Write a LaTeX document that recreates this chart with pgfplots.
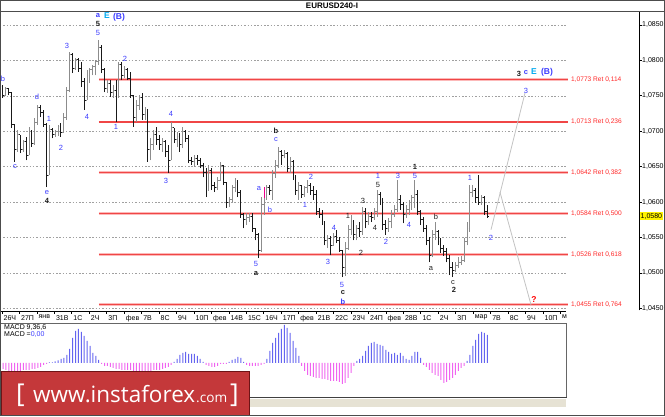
\documentclass[border=0pt]{standalone}
\usepackage{pgfplots}
\usepackage{pgfplotstable}
\pgfplotsset{compat=1.18}
\usepackage{fontspec}
\setmainfont{Liberation Sans}
\newfontfamily\osans{Open Sans}
\definecolor{upbar}{RGB}{140,140,140}
\definecolor{dnbar}{RGB}{25,25,25}
\definecolor{fibred}{RGB}{240,70,70}
\definecolor{fibpink}{RGB}{252,185,185}
\definecolor{fibtxt}{RGB}{255,40,40}
\definecolor{wb}{RGB}{60,60,255}
\definecolor{wk}{RGB}{30,30,30}
\definecolor{wc}{RGB}{0,170,240}
\definecolor{macdpos}{RGB}{100,100,240}
\definecolor{macdneg}{RGB}{240,100,240}
\definecolor{banred}{RGB}{196,56,58}
\definecolor{bandark}{RGB}{110,20,22}
\definecolor{gridgray}{RGB}{160,160,160}
\definecolor{projgray}{RGB}{195,195,195}
\definecolor{strip}{RGB}{230,226,212}

\pgfdeclareplotmark{otick}{\pgfpathmoveto{\pgfpoint{-1.4pt}{0pt}}\pgfpathlineto{\pgfpoint{0pt}{0pt}}\pgfusepathqstroke}
\pgfdeclareplotmark{ctick}{\pgfpathmoveto{\pgfpoint{0pt}{0pt}}\pgfpathlineto{\pgfpoint{1.4pt}{0pt}}\pgfusepathqstroke}

\pgfplotstableread{
x o h l c
3.0 1.0763 1.0765 1.0747 1.0751
8.8 1.0761 1.0761 1.0751 1.0754
11.7 1.0754 1.0754 1.0705 1.0709
14.6 1.0709 1.0709 1.0657 1.0674
20.4 1.0695 1.0695 1.0669 1.0674
26.2 1.0685 1.0692 1.0659 1.0666
32.0 1.0699 1.0702 1.0678 1.0683
40.7 1.0733 1.0737 1.0720 1.0726
43.6 1.0726 1.0730 1.0706 1.0709
46.5 1.0709 1.0712 1.0621 1.0638
52.3 1.0702 1.0705 1.0690 1.0695
61.0 1.0706 1.0712 1.0692 1.0698
72.6 1.0808 1.0811 1.0782 1.0789
78.4 1.0801 1.0803 1.0784 1.0789
81.3 1.0789 1.0798 1.0763 1.0770
84.2 1.0770 1.0775 1.0730 1.0744
101.6 1.0818 1.0822 1.0782 1.0787
104.5 1.0787 1.0789 1.0755 1.0761
110.3 1.0768 1.0772 1.0748 1.0755
116.1 1.0758 1.0772 1.0713 1.0747
121.9 1.0794 1.0798 1.0772 1.0779
127.7 1.0787 1.0789 1.0772 1.0775
130.6 1.0775 1.0784 1.0747 1.0751
133.5 1.0751 1.0751 1.0706 1.0719
142.2 1.0747 1.0754 1.0716 1.0723
148.0 1.0730 1.0730 1.0657 1.0674
156.7 1.0695 1.0706 1.0681 1.0688
159.6 1.0688 1.0695 1.0674 1.0681
165.4 1.0685 1.0688 1.0664 1.0671
168.3 1.0671 1.0681 1.0641 1.0659
174.1 1.0705 1.0705 1.0683 1.0688
179.9 1.0693 1.0698 1.0671 1.0681
185.7 1.0699 1.0702 1.0685 1.0690
188.6 1.0690 1.0695 1.0655 1.0659
191.5 1.0659 1.0664 1.0652 1.0657
197.3 1.0662 1.0666 1.0652 1.0659
200.2 1.0659 1.0662 1.0648 1.0652
203.1 1.0652 1.0655 1.0635 1.0642
206.0 1.0642 1.0648 1.0607 1.0617
211.8 1.0645 1.0648 1.0617 1.0624
214.7 1.0624 1.0628 1.0614 1.0620
223.4 1.0652 1.0652 1.0624 1.0628
226.3 1.0628 1.0628 1.0592 1.0599
237.9 1.0628 1.0631 1.0607 1.0614
240.8 1.0614 1.0617 1.0578 1.0582
243.7 1.0582 1.0585 1.0563 1.0575
252.4 1.0580 1.0585 1.0558 1.0563
255.3 1.0563 1.0563 1.0546 1.0554
258.2 1.0554 1.0556 1.0521 1.0532
269.8 1.0620 1.0624 1.0610 1.0617
281.4 1.0671 1.0674 1.0652 1.0666
287.2 1.0669 1.0671 1.0642 1.0648
293.0 1.0657 1.0659 1.0631 1.0635
295.9 1.0635 1.0638 1.0610 1.0617
301.7 1.0624 1.0624 1.0606 1.0610
310.4 1.0624 1.0627 1.0610 1.0617
313.3 1.0617 1.0623 1.0603 1.0610
316.2 1.0610 1.0617 1.0582 1.0586
319.1 1.0586 1.0592 1.0578 1.0582
322.0 1.0582 1.0589 1.0568 1.0572
324.9 1.0572 1.0572 1.0539 1.0546
330.7 1.0549 1.0552 1.0525 1.0539
336.5 1.0551 1.0561 1.0542 1.0546
339.4 1.0546 1.0551 1.0530 1.0532
342.3 1.0532 1.0532 1.0494 1.0507
353.9 1.0572 1.0575 1.0546 1.0554
359.7 1.0563 1.0572 1.0551 1.0558
365.5 1.0586 1.0592 1.0563 1.0572
371.3 1.0580 1.0586 1.0572 1.0578
380.0 1.0610 1.0614 1.0596 1.0603
382.9 1.0603 1.0606 1.0561 1.0568
385.8 1.0568 1.0575 1.0554 1.0563
400.3 1.0603 1.0610 1.0589 1.0596
403.2 1.0596 1.0600 1.0570 1.0582
417.7 1.0610 1.0617 1.0582 1.0586
420.6 1.0586 1.0589 1.0568 1.0575
423.5 1.0575 1.0579 1.0558 1.0563
426.4 1.0563 1.0568 1.0539 1.0546
429.3 1.0546 1.0551 1.0515 1.0525
438.0 1.0558 1.0561 1.0539 1.0544
440.9 1.0544 1.0549 1.0528 1.0535
443.8 1.0535 1.0539 1.0524 1.0530
446.7 1.0530 1.0535 1.0515 1.0521
449.6 1.0521 1.0525 1.0497 1.0507
452.5 1.0507 1.0515 1.0494 1.0504
475.7 1.0617 1.0620 1.0599 1.0606
478.6 1.0606 1.0638 1.0596 1.0600
484.4 1.0606 1.0609 1.0582 1.0586
487.3 1.0586 1.0596 1.0578 1.0580
}\dntab

\pgfplotstableread{
x o h l c
5.9 1.0751 1.0763 1.0751 1.0761
17.5 1.0674 1.0702 1.0671 1.0695
23.3 1.0674 1.0688 1.0671 1.0685
29.1 1.0666 1.0706 1.0666 1.0699
34.9 1.0683 1.0719 1.0681 1.0713
37.8 1.0713 1.0737 1.0709 1.0733
49.4 1.0638 1.0709 1.0638 1.0702
55.2 1.0695 1.0702 1.0692 1.0700
58.1 1.0700 1.0709 1.0693 1.0706
63.9 1.0698 1.0726 1.0698 1.0720
66.8 1.0720 1.0763 1.0716 1.0758
69.7 1.0758 1.0812 1.0755 1.0808
75.5 1.0789 1.0803 1.0787 1.0801
87.1 1.0744 1.0787 1.0744 1.0779
90.0 1.0779 1.0789 1.0768 1.0787
92.9 1.0787 1.0794 1.0779 1.0791
95.8 1.0791 1.0801 1.0779 1.0798
98.7 1.0798 1.0829 1.0794 1.0818
107.4 1.0761 1.0772 1.0754 1.0768
113.2 1.0755 1.0765 1.0747 1.0758
119.0 1.0747 1.0798 1.0747 1.0794
124.8 1.0779 1.0792 1.0775 1.0787
136.4 1.0719 1.0744 1.0713 1.0737
139.3 1.0737 1.0751 1.0730 1.0747
145.1 1.0723 1.0734 1.0716 1.0730
150.9 1.0674 1.0690 1.0659 1.0681
153.8 1.0681 1.0702 1.0674 1.0695
162.5 1.0681 1.0690 1.0671 1.0685
171.2 1.0659 1.0713 1.0659 1.0705
177.0 1.0688 1.0699 1.0678 1.0693
182.8 1.0681 1.0706 1.0676 1.0699
194.4 1.0657 1.0666 1.0650 1.0662
208.9 1.0617 1.0652 1.0617 1.0645
217.6 1.0620 1.0635 1.0617 1.0631
220.5 1.0631 1.0657 1.0631 1.0652
229.2 1.0599 1.0607 1.0593 1.0603
232.1 1.0603 1.0624 1.0600 1.0620
235.0 1.0620 1.0634 1.0614 1.0628
246.6 1.0575 1.0585 1.0568 1.0578
249.5 1.0578 1.0585 1.0572 1.0580
261.1 1.0532 1.0607 1.0530 1.0596
264.0 1.0596 1.0606 1.0582 1.0603
266.9 1.0603 1.0624 1.0603 1.0620
272.7 1.0617 1.0645 1.0603 1.0641
275.6 1.0641 1.0659 1.0634 1.0652
278.5 1.0652 1.0678 1.0648 1.0671
284.3 1.0666 1.0674 1.0662 1.0669
290.1 1.0648 1.0664 1.0641 1.0657
298.8 1.0617 1.0628 1.0603 1.0624
304.6 1.0610 1.0623 1.0607 1.0620
307.5 1.0620 1.0631 1.0613 1.0624
327.8 1.0546 1.0554 1.0535 1.0549
333.6 1.0539 1.0556 1.0539 1.0551
345.2 1.0507 1.0544 1.0496 1.0535
348.1 1.0535 1.0568 1.0532 1.0561
351.0 1.0561 1.0582 1.0554 1.0572
356.8 1.0554 1.0568 1.0546 1.0563
362.6 1.0558 1.0593 1.0554 1.0586
368.4 1.0572 1.0586 1.0568 1.0580
374.2 1.0578 1.0592 1.0575 1.0586
377.1 1.0586 1.0617 1.0579 1.0610
388.7 1.0563 1.0578 1.0558 1.0572
391.6 1.0572 1.0589 1.0563 1.0582
394.5 1.0582 1.0596 1.0579 1.0589
397.4 1.0589 1.0631 1.0586 1.0603
406.1 1.0582 1.0596 1.0578 1.0589
409.0 1.0589 1.0603 1.0582 1.0596
411.9 1.0596 1.0610 1.0589 1.0606
414.8 1.0606 1.0631 1.0592 1.0610
432.2 1.0525 1.0561 1.0522 1.0554
435.1 1.0554 1.0572 1.0546 1.0558
455.4 1.0504 1.0515 1.0501 1.0511
458.3 1.0511 1.0522 1.0507 1.0515
461.2 1.0515 1.0524 1.0511 1.0518
464.1 1.0518 1.0549 1.0515 1.0544
467.0 1.0544 1.0572 1.0539 1.0563
469.9 1.0563 1.0624 1.0558 1.0614
472.8 1.0614 1.0624 1.0607 1.0617
481.5 1.0600 1.0610 1.0596 1.0606
}\uptab

\newcommand{\wl}[4]{\node[text=#3,inner sep=0pt,font=\fontsize{7.5}{8}\selectfont] at (#1pt,{416pt-#2pt}) {#4};}
\newcommand{\wlb}[4]{\node[text=#3,inner sep=0pt,font=\bfseries\fontsize{7.5}{8}\selectfont] at (#1pt,{416pt-#2pt}) {#4};}
\newcommand{\fib}[2]{%
  \addplot[fibpink, line width=2.6pt, forget plot] coordinates {(99,#1) (568,#1)};
  \addplot[fibred, line width=1.2pt, forget plot] coordinates {(99,#1) (568,#1)};
  \node[anchor=west, inner sep=0pt, text=fibtxt, font=\fontsize{6.6}{7}\selectfont] at (axis cs:571,#1) {#2};}
\newcommand{\gl}[1]{\addplot[gridgray, line width=0.6pt, dash pattern=on 1.5pt off 1.8pt, forget plot] coordinates {(0,#1) (567,#1)};}

\begin{document}
\begin{tikzpicture}
\path[use as bounding box] (0pt,0pt) rectangle (665pt,416pt);
\fill[white] (0pt,0pt) rectangle (665pt,416pt);

% ---------- MACD panel ----------
\begin{axis}[at={(0pt,19pt)}, anchor=south west, scale only axis,
  width=566pt, height=74pt, xmin=0, xmax=566, ymin=-34, ymax=40, hide axis]
\addplot[ybar, bar width=1pt, bar shift=0pt, fill=macdneg, draw=none] coordinates {
(3.0,-6)(5.9,-7)(8.8,-8)(11.7,-8)(14.6,-8)(17.5,-8)(20.4,-8)(23.3,-7)(26.2,-7)(29.1,-7)(32.0,-6)(34.9,-6)(37.8,-5)(40.7,-4)(43.6,-2)(46.5,-1)
(101.6,-1)(104.5,-3)(107.4,-3)(110.3,-4)(113.2,-5)(116.1,-6)(119.0,-6)(121.9,-7)(124.8,-7)(127.7,-7)(130.6,-7)(133.5,-8)(136.4,-8)(139.3,-8)(142.2,-8)(145.1,-8)(148.0,-8)(150.9,-8)(153.8,-7)(156.7,-7)(159.6,-7)(162.5,-6)(165.4,-5)(168.3,-4)(171.2,-2)
(206.0,-2)(208.9,-3)(211.8,-4)(214.7,-4)(217.6,-3)(220.5,-1)(223.4,-1)(226.3,-1)
(246.6,-2)(249.5,-3)(252.4,-3)(255.3,-3)(258.2,-3)(261.1,-2)(264.0,-1)
(301.7,-3)(304.6,-8)(307.5,-12)(310.4,-13)(313.3,-14)(316.2,-15)(319.1,-15)(322.0,-16)(324.9,-16)(327.8,-17)(330.7,-18)(333.6,-18)(336.5,-18)(339.4,-19)(342.3,-21)(345.2,-20)(348.1,-15)(351.0,-10)(353.9,-3)
(423.5,-2)(426.4,-4)(429.3,-7)(432.2,-10)(435.1,-12)(438.0,-13)(440.9,-17)(443.8,-20)(446.7,-19)(449.6,-17)(452.5,-15)(455.4,-12)(458.3,-8)(461.2,-5)(464.1,-3)};
\addplot[ybar, bar width=1pt, bar shift=0pt, fill=macdpos, draw=none] coordinates {
(49.4,0.5)(52.3,0.7)(55.2,1.5)(58.1,2.5)(61.0,4)(63.9,5)(66.8,8)(69.7,14)(72.6,25)(75.5,32)(78.4,34)(81.3,31)(84.2,27)(87.1,22)(90.0,17)(92.9,10)(95.8,7)(98.7,3)
(174.1,1)(177.0,4)(179.9,8)(182.8,10)(185.7,11)(188.6,9)(191.5,9)(194.4,9)(197.3,7)(200.2,4)(203.1,1)
(229.2,1)(232.1,3)(235.0,4)(237.9,6)(240.8,5)(243.7,1)
(266.9,4)(269.8,12)(272.7,20)(275.6,25)(278.5,30)(281.4,34)(284.3,38)(287.2,35)(290.1,30)(293.0,22)(295.9,15)(298.8,7)
(356.8,2)(359.7,4)(362.6,7)(365.5,12)(368.4,17)(371.3,20)(374.2,21)(377.1,19)(380.0,18)(382.9,17)(385.8,13)(388.7,11)(391.6,9)(394.5,10)(397.4,8)(400.3,10)(403.2,7)(406.1,4)(409.0,3)(411.9,7)(414.8,11)(417.7,11)(420.6,5)
(467.0,2)(469.9,8)(472.8,17)(475.7,23)(478.6,29)(481.5,31)(484.4,30)(487.3,28)};
\end{axis}

% ---------- main price chart ----------
\begin{axis}[at={(0pt,105pt)}, anchor=south west, scale only axis,
  width=639pt, height=300pt, xmin=0, xmax=639, ymin=1.044617, ymax=1.086977,
  axis line style={draw=none}, clip=false,
  xtick={2.00,19.45,36.90,54.35,71.80,89.25,106.70,124.15,141.60,159.05,176.50,193.95,211.40,228.85,246.30,263.75,281.20,298.65,316.10,333.55,351.00,368.45,385.90,403.35,420.80,438.25,455.70,473.15,490.60,508.05,525.50,542.95,560.40},
  xticklabels={26Ч,27П,янв,31В,1С,2Ч,3П,фев,7В,8С,9Ч,10П,фев,14В,15С,16Ч,17П,фев,21В,22С,23Ч,24П,фев,28В,1С,2Ч,3П,мар,7В,8С,9Ч,10П,м},
  xtick pos=bottom,
  ytick={1.0450,1.0500,1.0550,1.0600,1.0650,1.0700,1.0750,1.0800,1.0850},
  yticklabels={{1,0450},{1,0500},{1,0550},{1,0600},{1,0650},{1,0700},{1,0750},{1,0800},{1,0850}},
  ytick pos=right, yticklabel pos=right,
  tick align=outside, major tick length=2.5pt,
  tick style={black, line width=0.7pt},
  x tick label style={anchor=north west, font=\fontsize{7}{7}\selectfont, inner sep=0pt, xshift=1.5pt, yshift=-1.5pt},
  y tick label style={anchor=west, font=\fontsize{7}{7}\selectfont, inner sep=0.5pt},
  scaled y ticks=false]

\gl{1.0450}\gl{1.0500}\gl{1.0550}\gl{1.0600}\gl{1.0650}\gl{1.0700}\gl{1.0750}\gl{1.0800}\gl{1.0850}

\fib{1.0773}{1,0773 Ret 0,114}
\fib{1.0713}{1,0713 Ret 0,236}
\fib{1.0642}{1,0642 Ret 0,382}
\fib{1.0584}{1,0584 Ret 0,500}
\fib{1.0526}{1,0526 Ret 0,618}
\fib{1.0455}{1,0455 Ret 0,764}

% projection lines
\addplot[projgray, line width=0.8pt] coordinates {(491,1.0561) (525,1.0754)};
\addplot[projgray, line width=0.8pt] coordinates {(500,1.0614) (531,1.0455)};
% magenta marker
\addplot[magenta, line width=1pt] coordinates {(264,1.0621) (264,1.0593)};

% OHLC bars (down = dark, up = gray)
\addplot[draw=none, mark=none, forget plot, error bars/.cd, y dir=plus, y explicit, error mark=none,
  error bar style={draw=dnbar, solid, line width=1pt}]
  table[x=x, y=l, y error expr=\thisrow{h}-\thisrow{l}] {\dntab};
\addplot[dnbar, only marks, mark=otick, mark options={solid, line width=1pt}, forget plot] table[x=x, y=o] {\dntab};
\addplot[dnbar, only marks, mark=ctick, mark options={solid, line width=1pt}, forget plot] table[x=x, y=c] {\dntab};
\addplot[draw=none, mark=none, forget plot, error bars/.cd, y dir=plus, y explicit, error mark=none,
  error bar style={draw=upbar, solid, line width=1pt}]
  table[x=x, y=l, y error expr=\thisrow{h}-\thisrow{l}] {\uptab};
\addplot[upbar, only marks, mark=otick, mark options={solid, line width=1pt}, forget plot] table[x=x, y=o] {\uptab};
\addplot[upbar, only marks, mark=ctick, mark options={solid, line width=1pt}, forget plot] table[x=x, y=c] {\uptab};

% axis lines
\draw[black, line width=0.8pt] (axis cs:0,1.044617) -- (axis cs:566,1.044617);
\draw[black, line width=0.8pt] (axis cs:639,1.0447) -- (axis cs:639,1.086977);
\node[fill=yellow, anchor=west, inner xsep=1pt, inner ysep=1pt, font=\fontsize{7}{7}\selectfont] at (axis cs:639.5,1.0580) {1,0580};
\end{axis}

% title bar
\draw[black!70, line width=0.8pt] (0pt,405pt) -- (665pt,405pt);
\node[font=\bfseries\fontsize{8}{8}\selectfont] at (332pt,410pt) {EURUSD240-I};

% wave labels (blue)
\wl{3}{79}{wb}{b}
\wl{15}{167}{wb}{c}
\wl{37}{97}{wb}{d}
\wl{49}{119}{wb}{1}
\wl{61}{148}{wb}{2}
\wl{47}{193}{wb}{e}
\wl{67}{46}{wb}{3}
\wl{87}{117}{wb}{4}
\wl{98}{33}{wb}{5}
\wlb{98}{16}{wb}{a}
\wl{116}{127}{wb}{1}
\wl{125}{59}{wb}{2}
\wl{171}{114}{wb}{4}
\wl{166}{181}{wb}{3}
\wl{276}{140}{wb}{c}
\wl{311}{177}{wb}{2}
\wl{259}{189}{wb}{a}
\wl{270}{210}{wb}{b}
\wl{305}{205}{wb}{1}
\wl{256}{264}{wb}{5}
\wl{328}{262}{wb}{3}
\wl{334}{228}{wb}{4}
\wl{342}{285}{wb}{5}
\wlb{343}{302}{wb}{b}
\wl{378}{176}{wb}{1}
\wl{386}{242}{wb}{2}
\wl{398}{176}{wb}{3}
\wl{409}{225}{wb}{4}
\wl{415}{176}{wb}{5}
\wl{470}{178}{wb}{1}
\wl{491}{238}{wb}{2}
\wl{526}{91}{wb}{3}
\wlb{526}{73}{wb}{c}
% wave labels (black)
\wlb{47}{201}{wk}{4}
\wlb{98}{24}{wk}{5}
\wlb{276}{131}{wk}{b}
\wlb{256}{274}{wk}{a}
\wlb{343}{293}{wk}{c}
\wl{348}{216}{wk}{1}
\wl{361}{253}{wk}{2}
\wl{363}{201}{wk}{3}
\wl{375}{228}{wk}{4}
\wl{378}{185}{wk}{5}
\wlb{415}{167}{wk}{1}
\wl{436}{217}{wk}{b}
\wl{431}{269}{wk}{a}
\wl{453}{283}{wk}{c}
\wlb{454}{290}{wk}{2}
\wlb{519}{74}{wk}{3}
\node[text=wc, inner sep=0pt, font=\bfseries\fontsize{8.5}{9}\selectfont] at (107pt,{416pt-16pt}) {E};
\node[text=wc, inner sep=0pt, font=\bfseries\fontsize{8.5}{9}\selectfont] at (534pt,{416pt-72pt}) {E};
\node[text=wb, inner sep=0pt, font=\bfseries\fontsize{8.5}{9}\selectfont] at (119pt,{416pt-17pt}) {(B)};
\node[text=wb, inner sep=0pt, font=\bfseries\fontsize{8.5}{9}\selectfont] at (547pt,{416pt-72pt}) {(B)};
\node[text=red, inner sep=0pt, font=\bfseries\fontsize{8.5}{9}\selectfont] at (534pt,{416pt-300pt}) {?};

% MACD panel frame and texts
\draw[black!60, line width=0.8pt] (0pt,93pt) -- (566pt,93pt) -- (566pt,19pt);
\fill[strip] (250pt,9pt) rectangle (566pt,17.5pt);
\draw[black!75, line width=1.6pt] (0pt,18.5pt) -- (566.8pt,18.5pt);
\node[anchor=north west, inner sep=0pt, font=\fontsize{7}{7}\selectfont] at (4pt,{416pt-324pt}) {MACD 9,36,6};
\node[anchor=north west, inner sep=0pt, font=\fontsize{7}{7}\selectfont] at (4pt,{416pt-331pt}) {MACD =\textcolor{wb}{0,00}};

% banner
\fill[banred] (0pt,0pt) rectangle (250pt,45pt);
\draw[bandark, line width=1.5pt] (0.75pt,0.75pt) rectangle (249.25pt,44.5pt);
\node[anchor=base west, inner sep=0pt, text=white] at (16pt,14pt) {\osans\fontsize{26}{26}\selectfont [};
\node[anchor=base west, inner sep=0pt, text=white] at (33pt,14pt) {\resizebox{162pt}{!}{\osans www.instaforex}};
\node[anchor=base west, inner sep=0pt, text=white] at (196pt,14pt) {\resizebox{31pt}{!}{\osans .com}};
\node[anchor=base west, inner sep=0pt, text=white] at (230pt,14pt) {\osans\fontsize{26}{26}\selectfont ]};

% outer frame
\draw[black!70, line width=1pt] (0.5pt,0.5pt) rectangle (664.5pt,415.5pt);
\end{tikzpicture}
\end{document}
